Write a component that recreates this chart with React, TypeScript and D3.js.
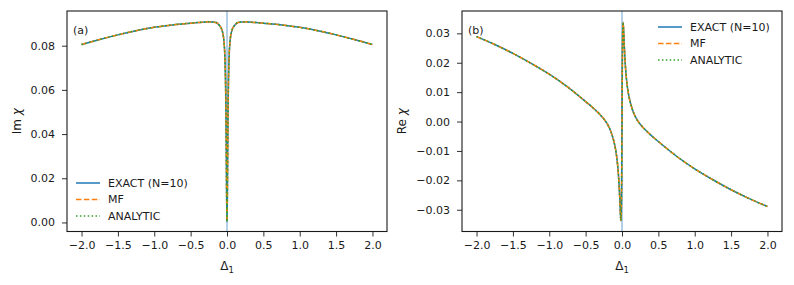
import * as d3 from 'd3';
import React, { useEffect, useRef } from 'react';

// detuning grid (shared by both panels)
const deltas = [
  -2, -1.75, -1.5, -1.25, -1, -0.75, -0.5, -0.4, -0.3, -0.25, -0.2, -0.15, -0.1, -0.08, -0.06,
  -0.05, -0.04, -0.03, -0.02, -0.015, -0.01, -0.005, 0, 0.005, 0.01, 0.015, 0.02, 0.03, 0.04,
  0.05, 0.06, 0.08, 0.1, 0.15, 0.2, 0.25, 0.3, 0.4, 0.5, 0.75, 1, 1.25, 1.5, 1.75, 2,
];

// Im chi
const imChi = [
  0.0805, 0.0828, 0.0849, 0.0868, 0.0883, 0.0894, 0.0902, 0.0905, 0.0907, 0.0908, 0.0907,
  0.0905, 0.0890, 0.0880, 0.086, 0.0843, 0.0814, 0.0758, 0.0633, 0.0514, 0.0335, 0.0116,
  0.0003, 0.0116, 0.0335, 0.0514, 0.0633, 0.0758, 0.0814, 0.0843, 0.086, 0.0880, 0.0890,
  0.0905, 0.0907, 0.0908, 0.0907, 0.0905, 0.0902, 0.0894, 0.0883, 0.0868, 0.0849, 0.0828,
  0.0805,
];

// Re chi
const reChi = [
  0.0289, 0.0262, 0.0232, 0.0198, 0.0161, 0.0118, 0.0068, 0.0047, 0.0023, 0.0009, -0.0009,
  -0.0036, -0.008, -0.0107, -0.0148, -0.0177, -0.0216, -0.0266, -0.0322, -0.0337, -0.0312,
  -0.0203, 0, 0.0203, 0.0312, 0.0337, 0.0322, 0.0266, 0.0216, 0.0177, 0.0148, 0.0107, 0.008,
  0.0036, 0.0009, -0.0009, -0.0023, -0.0047, -0.0068, -0.0118, -0.0161, -0.0198, -0.0232,
  -0.0262, -0.0289,
];

const seriesNames = ['EXACT (N=10)', 'MF', 'ANALYTIC'];
const seriesColors = ['#1f77b4', '#ff7f0e', '#2ca02c'];
const seriesDash = [null, '5.5,2.4', '1.5,2.4'];

const xTicks = [-2, -1.5, -1, -0.5, 0, 0.5, 1, 1.5, 2];
const imTicks = [0, 0.02, 0.04, 0.06, 0.08];
const reTicks = [-0.03, -0.02, -0.01, 0, 0.01, 0.02, 0.03];

const W = 794;
const H = 285;
const FONT = 'DejaVu Sans, sans-serif';

interface PanelCfg {
  left: number;
  right: number;
  values: number[];
  yDomain: [number, number];
  yTicks: number[];
  yLabel: string;
  labelX: number;
  tag: string;
  legendX: number;
  legendY: number;
}

const panels: PanelCfg[] = [
  {
    left: 67,
    right: 387,
    values: imChi,
    yDomain: [-0.0041, 0.0957],
    yTicks: imTicks,
    yLabel: 'Im',
    labelX: 17,
    tag: '(a)',
    legendX: 76,
    legendY: 183,
  },
  {
    left: 462,
    right: 782,
    values: reChi,
    yDomain: [-0.0374, 0.0376],
    yTicks: reTicks,
    yLabel: 'Re',
    labelX: 402,
    tag: '(b)',
    legendX: 658,
    legendY: 27,
  },
];

const App: React.FC = () => {
  const svgRef = useRef<SVGSVGElement | null>(null);

  useEffect(() => {
    const svg = d3.select(svgRef.current);
    svg.selectAll('*').remove();
    const top = 11;
    const bottom = 231.5;

    panels.forEach((p) => {
      const x = d3.scaleLinear().domain([-2.2, 2.2]).range([p.left, p.right]);
      const y = d3.scaleLinear().domain(p.yDomain).range([bottom, top]);
      const g = svg.append('g');

      // vertical marker at zero
      g.append('line')
        .attr('x1', x(0))
        .attr('x2', x(0))
        .attr('y1', top)
        .attr('y2', bottom)
        .attr('stroke', '#b3d0e8')
        .attr('stroke-width', 2);

      const line = d3
        .line<number>()
        .x((_, i) => x(deltas[i]))
        .y((d) => y(d))
        .curve(d3.curveMonotoneX);

      seriesNames.forEach((_, k) => {
        g.append('path')
          .datum(p.values)
          .attr('fill', 'none')
          .attr('stroke', seriesColors[k])
          .attr('stroke-width', 1.5)
          .attr('stroke-dasharray', seriesDash[k])
          .attr('d', line);
      });

      // axes
      g.append('g')
        .attr('transform', `translate(0,${bottom})`)
        .call(
          d3
            .axisBottom(x)
            .tickValues(xTicks)
            .tickFormat(d3.format('.1f'))
            .tickSize(5)
            .tickPadding(5)
            .tickSizeOuter(0),
        );
      g.append('g')
        .attr('transform', `translate(${p.left},0)`)
        .call(
          d3
            .axisLeft(y)
            .tickValues(p.yTicks)
            .tickFormat(d3.format('.2f'))
            .tickSize(5)
            .tickPadding(7)
            .tickSizeOuter(0),
        );
      g.selectAll('.domain').remove();
      g.selectAll('.tick text')
        .attr('font-family', FONT)
        .attr('font-size', 11)
        .attr('fill', '#1a1a1a');
      g.selectAll('.tick line').attr('stroke', '#1a1a1a').attr('stroke-width', 0.9);

      g.append('rect')
        .attr('x', p.left)
        .attr('y', top)
        .attr('width', p.right - p.left)
        .attr('height', bottom - top)
        .attr('fill', 'none')
        .attr('stroke', '#1a1a1a')
        .attr('stroke-width', 1.1);

      // labels
      const xl = g
        .append('text')
        .attr('x', (p.left + p.right) / 2)
        .attr('y', 270)
        .attr('text-anchor', 'middle')
        .attr('font-family', FONT)
        .attr('font-size', 12)
        .attr('fill', '#1a1a1a');
      xl.append('tspan').text('Δ');
      xl.append('tspan').attr('font-size', 8.5).attr('dy', 2.5).text('1');

      const yl = g
        .append('text')
        .attr('transform', `translate(${p.labelX},${(top + bottom) / 2}) rotate(-90)`)
        .attr('text-anchor', 'middle')
        .attr('dy', '0.35em')
        .attr('font-family', FONT)
        .attr('font-size', 12)
        .attr('fill', '#1a1a1a');
      yl.append('tspan').text(p.yLabel + ' ');
      yl.append('tspan').attr('font-style', 'italic').text('χ');

      g.append('text')
        .attr('x', p.left + 6)
        .attr('y', 30)
        .attr('dy', '0.35em')
        .attr('font-family', FONT)
        .attr('font-size', 11)
        .attr('fill', '#1a1a1a')
        .text(p.tag);

      // legend
      seriesNames.forEach((name, k) => {
        const ly = p.legendY + k * 16.5;
        g.append('line')
          .attr('x1', p.legendX)
          .attr('x2', p.legendX + 24)
          .attr('y1', ly)
          .attr('y2', ly)
          .attr('stroke', seriesColors[k])
          .attr('stroke-width', 1.5)
          .attr('stroke-dasharray', seriesDash[k]);
        g.append('text')
          .attr('x', p.legendX + 32)
          .attr('y', ly)
          .attr('dy', '0.35em')
          .attr('font-family', FONT)
          .attr('font-size', 11)
          .attr('fill', '#1a1a1a')
          .text(name);
      });
    });
  }, []);

  return (
    <svg
      ref={svgRef}
      width={W}
      height={H}
      style={{ position: 'absolute', left: 0, top: 0, background: '#fff' }}
    ></svg>
  );
};

export default App;
